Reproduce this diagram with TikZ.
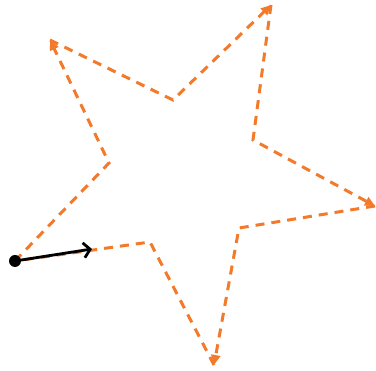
\documentclass[tikz,border=0pt]{standalone}
\usetikzlibrary{arrows.meta}
\definecolor{starorange}{RGB}{242,122,42}
\begin{document}
\begin{tikzpicture}[x=1pt,y=-1pt,
  starline/.style={draw=starorange,line width=3pt,dash pattern=on 9pt off 7pt,line join=miter,-{Triangle[length=10pt,width=9pt]}},
  arrowline/.style={draw=black,line width=2.8pt,-{Straight Barb[length=6.5pt,width=15pt,line width=2.8pt]}}]
\useasboundingbox (0,0) rectangle (376,371);
\coordinate (o1) at (15,261);
\coordinate (i1) at (109,163);
\coordinate (o2) at (50,40);
\coordinate (i2) at (173,100);
\coordinate (o3) at (271,5);
\coordinate (i3) at (253,140);
\coordinate (o4) at (375,206);
\coordinate (i4) at (239,228);
\coordinate (o5) at (214,365);
\coordinate (i5) at (150,242);
\coordinate (tip) at (92,249);
\draw[starline] (o1) -- (i1) -- (o2);
\draw[starline] (o2) -- (i2) -- (o3);
\draw[starline] (o3) -- (i3) -- (o4);
\draw[starline] (o4) -- (i4) -- (o5);
\draw[starline,-] (o5) -- (i5) -- (o1);
\draw[arrowline] (o1) -- (tip);
\fill[black] (o1) circle (6pt);
\end{tikzpicture}
\end{document}
